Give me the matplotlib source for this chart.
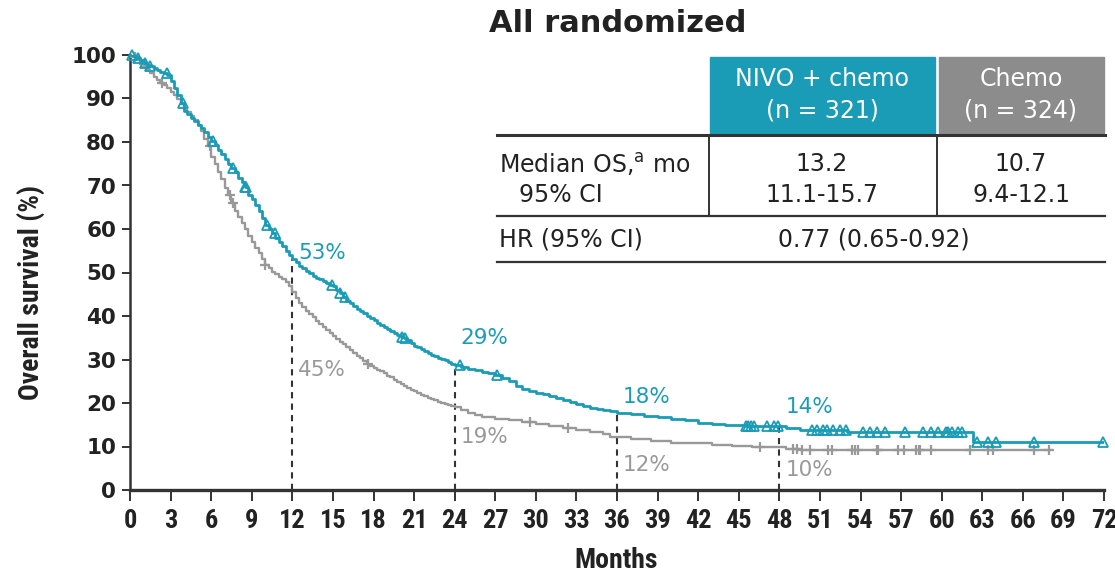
import matplotlib
matplotlib.use("Agg")
import matplotlib.pyplot as plt
from matplotlib import font_manager
from matplotlib.patches import Rectangle
from matplotlib.lines import Line2D
import numpy as np

# KM curves (months, OS %)
nivo_t = [0, 0.25, 0.5, 0.75, 1.0, 1.25, 1.5, 1.75, 2.0, 2.25, 2.5, 2.75, 3.0, 3.25, 3.5, 3.75,
          4.0, 4.25, 4.5, 4.75, 5.0, 5.25, 5.5, 5.75, 6.0, 6.25, 6.5, 6.75, 7.0, 7.25, 7.5, 7.75,
          8.0, 8.25, 8.5, 8.75, 9.0, 9.25, 9.5, 9.75, 10.0, 10.25, 10.5, 10.75, 11.0, 11.25,
          11.5, 11.75, 12.0, 12.25, 12.5, 12.75, 13.0, 13.25, 13.5, 13.75, 14.0, 14.25, 14.5,
          14.75, 15.0, 15.25, 15.5, 15.75, 16.0, 16.25, 16.5, 16.75, 17.0, 17.25, 17.5, 17.75,
          18.0, 18.25, 18.5, 18.75, 19.0, 19.25, 19.5, 19.75, 20.0, 20.25, 20.5, 20.75, 21.0,
          21.25, 21.5, 21.75, 22.0, 22.25, 22.5, 22.75, 23.0, 23.25, 23.5, 23.75, 24.0,
          24.5, 25, 25.5, 26, 26.5, 27, 27.5, 28, 28.5, 29, 29.5, 30, 30.5, 31, 31.5, 32, 32.5,
          33, 33.5, 34, 34.5, 35, 35.5, 36, 37, 38, 39, 40, 41, 42, 43, 44, 45.5, 48.5, 49.5,
          53, 62.3, 72]
nivo_s = [100, 99.7, 99.3, 98.8, 98.2, 97.8, 97.4, 97.0, 96.6, 96.2, 95.8, 95.3, 94.0, 92.5, 90.8, 89.0,
          87.2, 86.4, 85.6, 84.8, 84.0, 83.2, 82.3, 81.2, 80.2, 79.3, 78.2, 77.2, 76.2, 75.0, 74.0, 73.0,
          71.8, 70.8, 69.7, 67.8, 66.8, 65.5, 64.2, 62.6, 61.0, 60.0, 59.0, 58.0, 57.0, 56.0,
          55.0, 54.0, 53.0, 52.3, 51.6, 51.0, 50.4, 49.8, 49.3, 48.8, 48.4, 48.0, 47.6,
          47.2, 46.8, 46.0, 45.2, 44.3, 43.5, 42.9, 42.3, 41.7, 41.1, 40.6, 40.1, 39.6,
          39.0, 38.5, 38.0, 37.5, 37.0, 36.5, 36.0, 35.6, 35.2, 34.9, 34.4, 33.8, 33.2,
          32.8, 32.4, 32.0, 31.5, 31.1, 30.7, 30.4, 30.1, 29.8, 29.4, 29.0, 28.7,
          28.3, 27.9, 27.5, 27.1, 26.8, 26.4, 25.8, 25.0, 24.0, 23.2, 22.8, 22.4, 22.0, 21.5, 21.1, 20.7, 20.3,
          19.8, 19.4, 18.9, 18.6, 18.3, 18.1, 17.8, 17.5, 17.1, 16.8, 16.4, 16.0, 15.5, 15.2, 15.0, 14.8, 14.3, 13.8,
          13.4, 11.0, 11.0]

chemo_t = [0, 0.25, 0.5, 0.75, 1.0, 1.25, 1.5, 1.75, 2.0, 2.25, 2.5, 2.75, 3.0, 3.25, 3.5, 3.75,
           4.0, 4.25, 4.5, 4.75, 5.0, 5.25, 5.5, 5.75, 6.0, 6.25, 6.5, 6.75, 7.0, 7.25, 7.5, 7.75,
           8.0, 8.25, 8.5, 8.75, 9.0, 9.25, 9.5, 9.75, 10.0, 10.25, 10.5, 10.75, 11.0, 11.25,
           11.5, 11.75, 12.0, 12.25, 12.5, 12.75, 13.0, 13.25, 13.5, 13.75, 14.0, 14.25, 14.5,
           14.75, 15.0, 15.25, 15.5, 15.75, 16.0, 16.25, 16.5, 16.75, 17.0, 17.25, 17.5, 17.75,
           18.0, 18.25, 18.5, 18.75, 19.0, 19.25, 19.5, 19.75, 20.0, 20.25, 20.5, 20.75, 21.0,
           21.25, 21.5, 21.75, 22.0, 22.25, 22.5, 22.75, 23.0, 23.25, 23.5, 23.75, 24.0,
           24.5, 25, 25.5, 26, 27, 28, 29, 30, 31, 32, 33, 34, 35, 35.5, 37, 38.5, 40, 41.5,
           43, 44.5, 46, 47.5, 48.5, 49.5, 68]
chemo_s = [100, 99.5, 98.8, 98.0, 97.3, 96.6, 95.8, 95.0, 94.3, 93.6, 93.0, 92.3, 91.6, 90.8, 89.8, 88.8,
           87.7, 86.8, 86.0, 85.0, 84.0, 82.5, 80.8, 79.0, 76.5, 75.0, 73.2, 71.5, 69.5, 67.8, 66.0, 64.2,
           62.8, 61.4, 60.0, 58.3, 57.0, 55.7, 54.5, 53.0, 51.7, 51.0, 50.2, 49.6, 49.0, 48.6,
           47.8, 46.8, 45.5, 44.2, 43.0, 42.0, 41.2, 40.4, 39.8, 38.9, 38.1, 37.4, 36.7,
           36.0, 35.3, 34.6, 34.0, 33.5, 32.9, 32.2, 31.5, 30.9, 30.3, 29.6, 29.0, 28.5,
           28.1, 27.7, 27.3, 26.8, 26.3, 25.9, 25.4, 24.9, 24.4, 23.9, 23.5, 23.1, 22.7,
           22.3, 21.9, 21.5, 21.2, 20.9, 20.6, 20.3, 20.1, 19.8, 19.5, 19.2, 19.0,
           18.5, 17.8, 17.2, 16.8, 16.4, 16.0, 15.6, 15.2, 14.8, 14.3, 13.9, 13.4, 12.9, 12.2, 11.7, 11.3, 10.9, 10.7,
           10.4, 10.2, 10.0, 9.8, 9.5, 9.1, 9.1]

# censoring marks (months)
nivo_cens = [0.15, 0.6, 1.1, 1.5, 2.7, 3.9, 6.1, 7.6, 8.5, 8.6, 10.1, 10.7, 14.9, 15.5, 15.9,
             20.1, 20.3, 24.4, 27.1, 45.5, 45.7, 45.9, 46.1, 47.1, 47.6, 47.9, 50.4, 50.8,
             51.2, 51.5, 52.0, 52.5, 52.9, 54.2, 54.7, 55.2, 55.8, 57.3, 58.6, 59.2, 59.7,
             60.3, 60.5, 60.8, 61.2, 61.5, 62.6, 63.4, 64.0, 66.8, 71.9]
chemo_cens = [0.4, 1.2, 2.4, 5.9, 7.4, 7.6, 10.0, 17.6, 29.6, 32.4, 46.6, 49.0, 49.3, 49.7,
              50.3, 51.6, 51.9, 53.4, 53.6, 53.8, 55.2, 55.3, 56.8, 57.2, 58.1, 58.3, 58.4,
              59.2, 62.1, 63.4, 63.8, 66.8, 67.9]

landmarks = [12, 24, 36, 48]
nivo_pct = [53, 29, 18, 14]
chemo_pct = [45, 19, 12, 10]

# label placement (offset from the value, in % units)
nivo_dy = [1.5, 6.0, 3.4, 5.0]
chemo_dy = [-17.4, -6.8, -6.3, -5.4]

TEAL = "#1a9cb6"
GREY = "#999999"
DARK = "#333333"
INK = "#222222"


def pick_font(cands):
    for c in cands:
        try:
            font_manager.findfont(font_manager.FontProperties(family=c), fallback_to_default=False)
            return c
        except ValueError:
            pass
    return None


narrow = pick_font(["Liberation Sans Narrow", "DejaVu Sans Condensed", "Roboto Condensed",
                    "Open Sans Condensed", "Noto Sans Condensed"])

W, H = 1115, 577
fig = plt.figure(figsize=(W / 100, H / 100), dpi=100)
ax = fig.add_axes([130 / W, 1 - 490 / H, (1104 - 130) / W, (490 - 55) / H])


def step_at(t, s, x):
    i = np.searchsorted(t, x, side="right") - 1
    return np.array(s)[i]


ax.step(chemo_t, chemo_s, where="post", color=GREY, lw=1.7, zorder=3)
ax.step(nivo_t, nivo_s, where="post", color=TEAL, lw=2.0, zorder=4)
ax.plot(chemo_cens, step_at(chemo_t, chemo_s, chemo_cens), ls="none", marker="+",
        ms=7, mew=1.6, color=GREY, zorder=3, clip_on=False)
ax.plot(nivo_cens, step_at(nivo_t, nivo_s, nivo_cens), ls="none", marker="^",
        ms=7.5, mew=1.3, mfc="none", mec=TEAL, zorder=5, clip_on=False)

for m, pn, pc, dn, dc in zip(landmarks, nivo_pct, chemo_pct, nivo_dy, chemo_dy):
    ax.plot([m, m], [0, step_at(nivo_t, nivo_s, m)], ls=(0, (3, 2.5)), color=DARK, lw=1.5, zorder=2)
    ax.text(m + 0.45, pn + dn, f"{pn}%", color=TEAL, fontsize=15.5, ha="left", va="center")
    ax.text(m + 0.45, pc + dc, f"{pc}%", color=GREY, fontsize=15.5, ha="left", va="center")

ax.set_xlim(0, 72)
ax.set_ylim(0, 100)
ax.set_xticks(range(0, 73, 3))
ax.set_yticks(range(0, 101, 10))
for sp in ["top", "right"]:
    ax.spines[sp].set_visible(False)
ax.spines["left"].set_color(DARK)
ax.spines["left"].set_linewidth(1.8)
ax.spines["bottom"].set_color(DARK)
ax.spines["bottom"].set_linewidth(2.4)
ax.tick_params(axis="x", length=8, width=1.4, color=DARK, pad=6)
ax.tick_params(axis="y", length=6, width=1.4, color=DARK, pad=4)
for lab in ax.get_xticklabels():
    if narrow:
        lab.set_fontfamily(narrow)
        lab.set_fontsize(19)
    else:
        lab.set_fontsize(14.5)
    lab.set_fontweight("bold")
    lab.set_color(INK)
for lab in ax.get_yticklabels():
    lab.set_fontweight("bold")
    lab.set_fontsize(15.5)
    lab.set_color(INK)

lab_font = narrow if narrow else "DejaVu Sans"
lab_size = 20 if narrow else 15
ax.set_xlabel("Months", fontsize=lab_size, fontweight="bold", color=INK, family=lab_font)
ax.xaxis.set_label_coords((616 - 130) / 974, -(547 - 490) / 435)
ax.set_ylabel("Overall survival (%)", fontsize=lab_size, fontweight="bold", color=INK,
              family=lab_font)
ax.yaxis.set_label_coords((45 - 130) / 974, (490 - 292) / 435)

fig.text(618 / W, 1 - 23 / H, "All randomized", fontsize=22, fontweight="bold",
         color=INK, ha="center", va="center")

# results table in pixel coordinates


def fx(x):
    return x / W


def fy(y):
    return 1 - y / H


fig.add_artist(Rectangle((fx(710), fy(133)), (935 - 710) / W, (133 - 57) / H,
                         transform=fig.transFigure, color=TEAL, zorder=1))
fig.add_artist(Rectangle((fx(939), fy(133)), (1104 - 939) / W, (133 - 57) / H,
                         transform=fig.transFigure, color="#8c8c8c", zorder=1))
for y, lw in [(135, 2.2), (216, 1.6), (262, 1.6)]:
    fig.add_artist(Line2D([fx(497), fx(1105)], [fy(y), fy(y)], transform=fig.transFigure,
                          color=DARK, lw=lw))
for x in [709, 937]:
    fig.add_artist(Line2D([fx(x), fx(x)], [fy(135), fy(216)], transform=fig.transFigure,
                          color=DARK, lw=1.4))

tfs = 17
fig.text(fx(822), fy(79), "NIVO + chemo", color="white", fontsize=tfs, ha="center", va="center")
fig.text(fx(822), fy(111), "(n = 321)", color="white", fontsize=tfs, ha="center", va="center")
fig.text(fx(1021), fy(79), "Chemo", color="white", fontsize=tfs, ha="center", va="center")
fig.text(fx(1021), fy(111), "(n = 324)", color="white", fontsize=tfs, ha="center", va="center")
fig.text(fx(499), fy(164), "Median OS,$^{\\mathregular{a}}$ mo", color=INK, fontsize=tfs,
         ha="left", va="center")
fig.text(fx(519), fy(195), "95% CI", color=INK, fontsize=tfs, ha="left", va="center")
fig.text(fx(822), fy(164), "13.2", color=INK, fontsize=tfs, ha="center", va="center")
fig.text(fx(822), fy(195), "11.1-15.7", color=INK, fontsize=tfs, ha="center", va="center")
fig.text(fx(1021), fy(164), "10.7", color=INK, fontsize=tfs, ha="center", va="center")
fig.text(fx(1021), fy(195), "9.4-12.1", color=INK, fontsize=tfs, ha="center", va="center")
fig.text(fx(499), fy(240), "HR (95% CI)", color=INK, fontsize=tfs, ha="left", va="center")
fig.text(fx(874), fy(240), "0.77 (0.65-0.92)", color=INK, fontsize=tfs, ha="center",
         va="center")

fig.savefig("out.png", dpi=100)
